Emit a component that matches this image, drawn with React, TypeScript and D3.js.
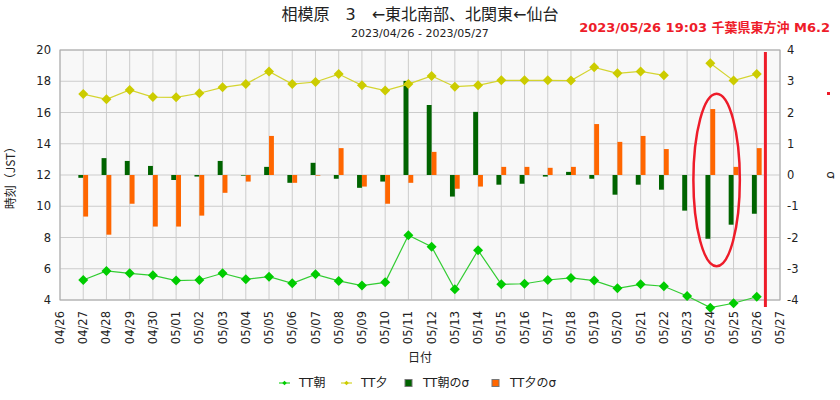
import React from "react";
import * as d3 from "d3";

// 04/27 .. 05/26
const days: string[] = [
  "2023-04-27", "2023-04-28", "2023-04-29", "2023-04-30", "2023-05-01", "2023-05-02",
  "2023-05-03", "2023-05-04", "2023-05-05", "2023-05-06", "2023-05-07", "2023-05-08",
  "2023-05-09", "2023-05-10", "2023-05-11", "2023-05-12", "2023-05-13", "2023-05-14",
  "2023-05-15", "2023-05-16", "2023-05-17", "2023-05-18", "2023-05-19", "2023-05-20",
  "2023-05-21", "2023-05-22", "2023-05-23", "2023-05-24", "2023-05-25", "2023-05-26",
];

const ttMorning: (number | null)[] = [
  5.28, 5.86, 5.71, 5.58, 5.24, 5.28, 5.71, 5.32, 5.49, 5.07,
  5.64, 5.22, 4.92, 5.13, 8.14, 7.41, 4.68, 7.18, 5.0, 5.04,
  5.28, 5.41, 5.24, 4.75, 5.0, 4.88, 4.26, 3.51, 3.79, 4.21,
];

const ttEvening: (number | null)[] = [
  17.18, 16.84, 17.44, 16.99, 16.97, 17.23, 17.61, 17.82, 18.63, 17.82,
  17.95, 18.46, 17.74, 17.4, 17.82, 18.34, 17.65, 17.74, 18.06, 18.06,
  18.06, 18.04, 18.89, 18.51, 18.63, 18.38, null, 19.15, 18.04, 18.46,
];

const sigmaMorning: (number | null)[] = [
  -0.09, 0.54, 0.45, 0.29, -0.16, -0.05, 0.45, -0.02, 0.26, -0.25,
  0.39, -0.12, -0.41, -0.21, 3.01, 2.24, -0.69, 2.02, -0.31, -0.28,
  -0.05, 0.1, -0.12, -0.63, -0.31, -0.47, -1.14, -2.04, -1.59, -1.24,
];

const sigmaEvening: (number | null)[] = [
  -1.33, -1.91, -0.92, -1.65, -1.65, -1.3, -0.57, -0.21, 1.25, -0.25,
  -0.02, 0.86, -0.37, -0.92, -0.25, 0.74, -0.44, -0.37, 0.26, 0.26,
  0.23, 0.26, 1.63, 1.06, 1.25, 0.83, null, 2.11, 0.26, 0.86,
];

const leftTicks = [4, 6, 8, 10, 12, 14, 16, 18, 20];
const rightTicks = [-4, -3, -2, -1, 0, 1, 2, 3, 4];

const title = "相模原　3　←東北南部、北関東←仙台";
const subtitle = "2023/04/26 - 2023/05/27";
const quakeLabel = "2023/05/26 19:03 千葉県東方沖 M6.2";
const quakeTime = new Date(2023, 4, 26, 8, 55);
// highlighted region: centre (date, sigma), half sizes (days, sigma)
const circled = { date: new Date(2023, 4, 24, 6, 30), sigma: -0.16, days: 1.0, sigmas: 2.76 };

const parse = d3.timeParse("%Y-%m-%d");
const fmt = d3.timeFormat("%m/%d");
const FONT = "'DejaVu Sans', 'Noto Sans CJK JP', sans-serif";
const CJK = "'Noto Sans CJK JP', 'DejaVu Sans', sans-serif";

const W = 840, H = 400;
const M = { left: 60, right: 780, top: 50, bottom: 300 };

const GREEN = "#00cc00";
const YELLOW = "#cccc00";
const DARK = "#006400";
const ORANGE = "#ff6600";
const RED = "#ee1c2a";

const App = () => {
  const x = d3.scaleTime()
    .domain([new Date(2023, 3, 26), new Date(2023, 4, 27)])
    .range([M.left, M.right]);
  const yL = d3.scaleLinear().domain([4, 20]).range([M.bottom, M.top]);
  const yR = d3.scaleLinear().domain([-4, 4]).range([M.bottom, M.top]);

  const dates = days.map(d => parse(d)!);
  const dayTicks = x.ticks(d3.timeDay.every(1)!);
  const dayW = x(new Date(2023, 3, 27)) - x(new Date(2023, 3, 26));
  const barW = dayW * 0.21;

  const line = d3.line<number | null>()
    .defined(v => v != null)
    .x((_, i) => x(dates[i]))
    .y(v => yL(v as number));

  const diamond = d3.symbol(d3.symbolSquare, 50)()!;
  const smallDiamond = d3.symbol(d3.symbolSquare, 10)()!;

  const bar = (v: number | null, i: number, off: number, color: string) =>
    v == null ? null : (
      <rect key={i} x={x(dates[i]) + off} width={barW}
        y={Math.min(yR(v), yR(0))} height={Math.abs(yR(v) - yR(0))} fill={color} />
    );

  const markers = (vals: (number | null)[], color: string) =>
    vals.map((v, i) => v == null ? null : (
      <path key={i} d={diamond} fill={color}
        transform={`translate(${x(dates[i])},${yL(v)}) rotate(45)`} />
    ));

  const cx = x(circled.date);
  const cy = yR(circled.sigma);
  const rx = x(new Date(circled.date.getTime() + circled.days * 864e5)) - cx;
  const ry = yR(circled.sigma - circled.sigmas) - cy;

  const legend = [
    { kind: "line", color: GREEN, label: "TT朝", x: 279 },
    { kind: "line", color: YELLOW, label: "TT夕", x: 341 },
    { kind: "box", color: DARK, label: "TT朝のσ", x: 405 },
    { kind: "box", color: ORANGE, label: "TT夕のσ", x: 492 },
  ];

  return (
    <svg width={W} height={H} style={{ position: "absolute", left: 0, top: 0, background: "#fff" }}
      fontFamily={FONT}>
      <text x={420} y={20} textAnchor="middle" fontSize={16} fill="#222">{title}</text>
      <text x={420} y={37} textAnchor="middle" fontSize={11} fill="#222">{subtitle}</text>
      <text x={830} y={32} textAnchor="end" fontSize={13} fontWeight="bold" fill={RED}>{quakeLabel}</text>

      <rect x={M.left} y={M.top} width={M.right - M.left} height={M.bottom - M.top} fill="#f8f8f8" />
      {dayTicks.map((d, i) => (
        <line key={i} x1={x(d)} x2={x(d)} y1={M.top} y2={M.bottom} stroke="#cccccc" />
      ))}
      {leftTicks.map(t => (
        <line key={t} x1={M.left} x2={M.right} y1={yL(t)} y2={yL(t)} stroke="#cccccc" />
      ))}
      <rect x={M.left} y={M.top} width={M.right - M.left} height={M.bottom - M.top}
        fill="none" stroke="#aaaaaa" />

      {sigmaMorning.map((v, i) => bar(v, i, -barW, DARK))}
      {sigmaEvening.map((v, i) => bar(v, i, 0, ORANGE))}

      <path d={line(ttEvening)!} fill="none" stroke="#d4d430" strokeWidth={1.2} />
      <path d={line(ttMorning)!} fill="none" stroke="#33cc33" strokeWidth={1.2} />
      {markers(ttEvening, YELLOW)}
      {markers(ttMorning, GREEN)}

      <ellipse cx={cx} cy={cy} rx={rx} ry={ry} fill="none" stroke={RED} strokeWidth={2.5} />
      <line x1={x(quakeTime)} x2={x(quakeTime)} y1={M.top + 2} y2={M.bottom + 7}
        stroke={RED} strokeWidth={3} />
      <rect x={827} y={92} width={3} height={3} fill={RED} />

      {leftTicks.map(t => (
        <text key={t} x={51} y={yL(t)} dy="0.35em" textAnchor="end" fontSize={11.5} fill="#222">{t}</text>
      ))}
      {rightTicks.map(t => (
        <text key={t} x={787} y={yR(t)} dy="0.35em" fontSize={11.5} fill="#222">{t}</text>
      ))}
      {dayTicks.map((d, i) => (
        <text key={i} transform={`translate(${x(d)},311) rotate(-90)`} dy="0.35em"
          textAnchor="end" fontSize={11.5} fill="#222">{fmt(d)}</text>
      ))}

      <text transform="translate(11,175) rotate(-90)" dy="0.35em" textAnchor="middle"
        fontSize={12} fontFamily={CJK} fill="#222">時刻（JST）</text>
      <text transform="translate(831,175) rotate(90)" dy="0.35em" textAnchor="middle"
        fontSize={12} fill="#222">σ</text>
      <text x={420} y={362} textAnchor="middle" fontSize={12} fill="#222">日付</text>

      {legend.map(l => (
        <g key={l.label} transform={`translate(${l.x},383)`}>
          {l.kind === "line" ? (
            <>
              <line x1={0} x2={11} y1={0} y2={0} stroke={l.color} />
              <path d={smallDiamond} fill={l.color} transform="translate(5.5,0) rotate(45)" />
            </>
          ) : (
            <rect x={0} y={-3.5} width={7} height={7} fill={l.color} stroke="#777" />
          )}
          <text x={l.kind === "line" ? 20 : 18} y={0} dy="0.35em" fontSize={12} fill="#222">{l.label}</text>
        </g>
      ))}
    </svg>
  );
};

export default App;
